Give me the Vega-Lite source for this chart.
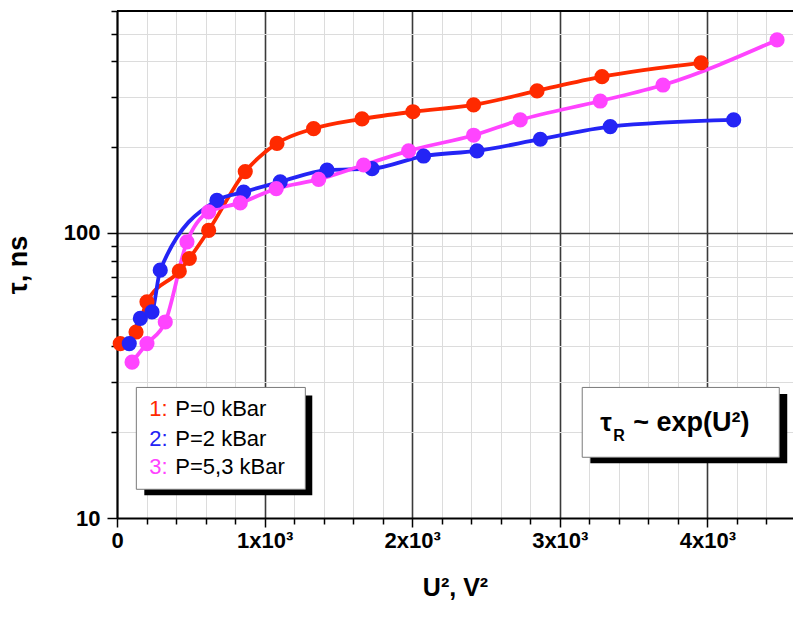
{
  "$schema": "https://vega.github.io/schema/vega-lite/v6.json",
  "width": 676,
  "height": 507,
  "autosize": {"type": "none"},
  "padding": {"left": 117, "top": 11, "right": 0, "bottom": 101},
  "background": "white",
  "config": {
    "view": {"stroke": null},
    "font": "Liberation Sans",
    "axis": {
      "labelFont": "Liberation Sans",
      "labelFontWeight": "bold",
      "labelFontSize": 22,
      "labelColor": "black",
      "titleFont": "Liberation Sans",
      "titleFontWeight": "bold",
      "titleColor": "black",
      "domainColor": "black",
      "domainWidth": 2,
      "tickColor": "black",
      "tickWidth": 1.5,
      "labelOverlap": false,
      "labelFlush": false
    }
  },
  "data": {
    "values": [
      {"series": "1", "x": 22, "y": 40.9},
      {"series": "1", "x": 129, "y": 44.9},
      {"series": "1", "x": 203, "y": 57.3},
      {"series": "1", "x": 422, "y": 73.4},
      {"series": "1", "x": 490, "y": 81.3},
      {"series": "1", "x": 621, "y": 102},
      {"series": "1", "x": 869, "y": 164},
      {"series": "1", "x": 1084, "y": 206},
      {"series": "1", "x": 1332, "y": 232},
      {"series": "1", "x": 1660, "y": 251},
      {"series": "1", "x": 2005, "y": 266},
      {"series": "1", "x": 2416, "y": 281},
      {"series": "1", "x": 2846, "y": 315},
      {"series": "1", "x": 3286, "y": 353},
      {"series": "1", "x": 3957, "y": 395},
      {"series": "2", "x": 83, "y": 40.9},
      {"series": "2", "x": 158, "y": 50.1},
      {"series": "2", "x": 237, "y": 52.8},
      {"series": "2", "x": 293, "y": 74},
      {"series": "2", "x": 677, "y": 130},
      {"series": "2", "x": 858, "y": 139},
      {"series": "2", "x": 1106, "y": 151},
      {"series": "2", "x": 1423, "y": 166},
      {"series": "2", "x": 1728, "y": 168},
      {"series": "2", "x": 2077, "y": 186},
      {"series": "2", "x": 2439, "y": 194},
      {"series": "2", "x": 2868, "y": 213},
      {"series": "2", "x": 3342, "y": 236},
      {"series": "2", "x": 4178, "y": 249},
      {"series": "3", "x": 102, "y": 35.2},
      {"series": "3", "x": 203, "y": 40.9},
      {"series": "3", "x": 327, "y": 48.7},
      {"series": "3", "x": 474, "y": 93},
      {"series": "3", "x": 621, "y": 118.5},
      {"series": "3", "x": 835, "y": 127.4},
      {"series": "3", "x": 1079, "y": 143},
      {"series": "3", "x": 1366, "y": 154},
      {"series": "3", "x": 1671, "y": 173},
      {"series": "3", "x": 1976, "y": 194},
      {"series": "3", "x": 2416, "y": 220},
      {"series": "3", "x": 2732, "y": 249},
      {"series": "3", "x": 3274, "y": 290},
      {"series": "3", "x": 3699, "y": 330},
      {"series": "3", "x": 4472, "y": 475}
    ]
  },
  "layer": [
    {
      "mark": {"type": "line", "interpolate": "monotone", "strokeWidth": 3.8},
      "encoding": {
        "x": {
          "field": "x", "type": "quantitative",
          "scale": {"domain": [0, 4580], "nice": false, "zero": false},
          "title": "U², V²",
          "axis": {
            "values": [0, 200, 400, 600, 800, 1000, 1200, 1400, 1600, 1800, 2000, 2200, 2400, 2600, 2800, 3000, 3200, 3400, 3600, 3800, 4000, 4200, 4400],
            "tickCount": 200,
            "labelOverlap": false,
            "labelExpr": "datum.value == 0 ? '0' : (datum.value % 1000 == 0 ? (datum.value / 1000) + 'x10³' : '')",
            "grid": true,
            "gridColor": {"condition": {"test": "datum.value % 1000 == 0", "value": "#3a3a3a"}, "value": "#dcdcdc"},
            "gridWidth": {"condition": {"test": "datum.value % 1000 == 0", "value": 1.6}, "value": 1},
            "tickSize": {"condition": {"test": "datum.value % 1000 == 0", "value": 9}, "value": 6},
            "labelPadding": 3,
            "titleFontSize": 25,
            "titlePadding": 24
          }
        },
        "y": {
          "field": "y", "type": "quantitative",
          "scale": {"type": "log", "domain": [10, 600], "nice": false},
          "title": "τ, ns",
          "axis": {
            "values": [10, 20, 30, 40, 50, 60, 70, 80, 90, 100, 200, 300, 400, 500, 600],
            "tickCount": 200,
            "labelOverlap": false,
            "labelExpr": "datum.value == 10 || datum.value == 100 ? '' + datum.value : ''",
            "grid": true,
            "gridColor": {"condition": {"test": "datum.value == 100", "value": "#3a3a3a"}, "value": "#dcdcdc"},
            "gridWidth": {"condition": {"test": "datum.value == 100", "value": 1.6}, "value": 1},
            "tickSize": {"condition": {"test": "datum.value == 100 || datum.value == 10", "value": 10}, "value": 6},
            "labelPadding": 7,
            "titleFontSize": 27,
            "titlePadding": 31
          }
        },
        "color": {
          "field": "series", "type": "nominal",
          "scale": {"domain": ["1", "2", "3"], "range": ["#FF2A00", "#2424F5", "#FF44FF"]},
          "legend": null
        }
      }
    },
    {
      "mark": {"type": "circle", "size": 230, "opacity": 1},
      "encoding": {
        "x": {"field": "x", "type": "quantitative"},
        "y": {"field": "y", "type": "quantitative"},
        "color": {"field": "series", "type": "nominal"}
      }
    },
    {
      "data": {"values": [{}]},
      "mark": {"type": "rule", "color": "black", "strokeWidth": 2},
      "encoding": {"y": {"datum": 600, "type": "quantitative"}}
    },
    {
      "data": {"values": [{}]},
      "mark": {"type": "rect", "color": "black"},
      "encoding": {
        "x": {"datum": 185, "type": "quantitative"}, "x2": {"datum": 1323},
        "y": {"datum": 26.9, "type": "quantitative"}, "y2": {"datum": 12.01}
      }
    },
    {
      "data": {"values": [{}]},
      "mark": {"type": "rect", "fill": "white", "stroke": "#7a7a7a", "strokeWidth": 1},
      "encoding": {
        "x": {"datum": 131, "type": "quantitative"}, "x2": {"datum": 1276},
        "y": {"datum": 28.7, "type": "quantitative"}, "y2": {"datum": 12.61}
      }
    },
    {
      "data": {"values": [{}]},
      "mark": {"type": "rect", "color": "black"},
      "encoding": {
        "x": {"datum": 3207, "type": "quantitative"}, "x2": {"datum": 4541},
        "y": {"datum": 27.2, "type": "quantitative"}, "y2": {"datum": 15.56}
      }
    },
    {
      "data": {"values": [{}]},
      "mark": {"type": "rect", "fill": "white", "stroke": "#7a7a7a", "strokeWidth": 1},
      "encoding": {
        "x": {"datum": 3152, "type": "quantitative"}, "x2": {"datum": 4487},
        "y": {"datum": 28.7, "type": "quantitative"}, "y2": {"datum": 16.33}
      }
    },
    {
      "data": {"values": [{}]},
      "mark": {"type": "text", "text": "1:", "align": "left", "baseline": "middle", "fontSize": 22, "color": "#FF2A00"},
      "encoding": {"x": {"datum": 219, "type": "quantitative"}, "y": {"datum": 24.06, "type": "quantitative"}}
    },
    {
      "data": {"values": [{}]},
      "mark": {"type": "text", "text": "2:", "align": "left", "baseline": "middle", "fontSize": 22, "color": "#2424F5"},
      "encoding": {"x": {"datum": 219, "type": "quantitative"}, "y": {"datum": 18.88, "type": "quantitative"}}
    },
    {
      "data": {"values": [{}]},
      "mark": {"type": "text", "text": "3:", "align": "left", "baseline": "middle", "fontSize": 22, "color": "#FF44FF"},
      "encoding": {"x": {"datum": 219, "type": "quantitative"}, "y": {"datum": 15.07, "type": "quantitative"}}
    },
    {
      "data": {"values": [{}]},
      "mark": {"type": "text", "text": "P=0 kBar", "align": "left", "baseline": "middle", "fontSize": 22, "color": "black"},
      "encoding": {"x": {"datum": 395, "type": "quantitative"}, "y": {"datum": 24.06, "type": "quantitative"}}
    },
    {
      "data": {"values": [{}]},
      "mark": {"type": "text", "text": "P=2 kBar", "align": "left", "baseline": "middle", "fontSize": 22, "color": "black"},
      "encoding": {"x": {"datum": 395, "type": "quantitative"}, "y": {"datum": 18.88, "type": "quantitative"}}
    },
    {
      "data": {"values": [{}]},
      "mark": {"type": "text", "text": "P=5,3 kBar", "align": "left", "baseline": "middle", "fontSize": 22, "color": "black"},
      "encoding": {"x": {"datum": 395, "type": "quantitative"}, "y": {"datum": 15.07, "type": "quantitative"}}
    },
    {
      "data": {"values": [{}]},
      "mark": {"type": "text", "text": "τ", "align": "left", "baseline": "middle", "fontSize": 26, "fontWeight": "bold", "color": "black"},
      "encoding": {"x": {"datum": 3274, "type": "quantitative"}, "y": {"datum": 21.5, "type": "quantitative"}}
    },
    {
      "data": {"values": [{}]},
      "mark": {"type": "text", "text": "R", "align": "left", "baseline": "middle", "fontSize": 16, "fontWeight": "bold", "color": "black"},
      "encoding": {"x": {"datum": 3362, "type": "quantitative"}, "y": {"datum": 19.35, "type": "quantitative"}}
    },
    {
      "data": {"values": [{}]},
      "mark": {"type": "text", "text": "~ exp(U²)", "align": "left", "baseline": "middle", "fontSize": 27, "fontWeight": "bold", "color": "black"},
      "encoding": {"x": {"datum": 3498, "type": "quantitative"}, "y": {"datum": 21.5, "type": "quantitative"}}
    }
  ]
}
